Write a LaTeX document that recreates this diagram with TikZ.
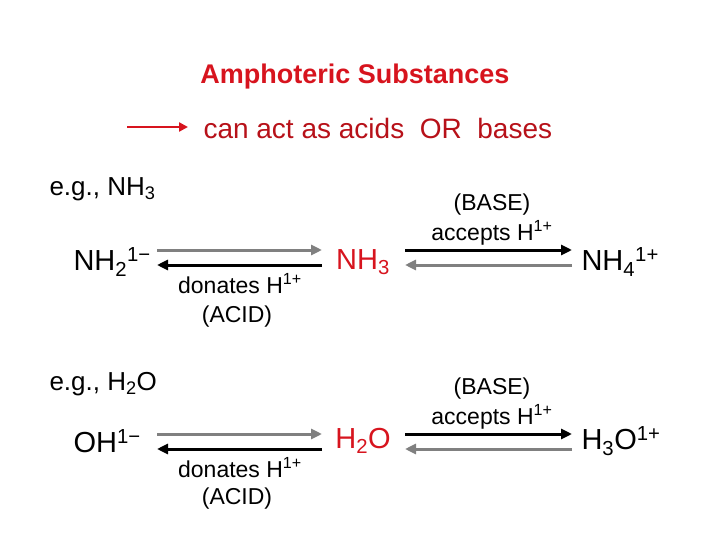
\documentclass[tikz,border=0pt]{standalone}
\usepackage{fontspec}
\setmainfont{Liberation Sans}
\usetikzlibrary{arrows.meta}
\definecolor{hdred}{RGB}{215,20,30}
\definecolor{midgray}{RGB}{128,128,128}
\newcommand{\sub}[1]{\textsubscript{#1}}
\newcommand{\sups}[1]{\textsuperscript{#1}}
\tikzset{
  big/.style={font=\fontsize{29}{32}\selectfont},
  small/.style={font=\fontsize{23}{26}\selectfont},
  eqarr/.style={line width=3pt,-{Triangle[length=11pt,width=10pt]}},
}
\begin{document}
\begin{tikzpicture}[x=1pt,y=-1pt]
\useasboundingbox (0,0) rectangle (720,540);
\node[font=\fontsize{27}{30}\selectfont\bfseries,text=hdred] (title) at (355,77) {Amphoteric Substances};
\coordinate (da) at (127,127); \coordinate (db) at (188,127);
\draw[hdred,line width=2.5pt,-{Triangle[length=9pt,width=9pt]}] (da) -- (db);
\node[font=\fontsize{28}{31}\selectfont,text=hdred!85!black,anchor=west] (def) at (200,128) {can act as acids\ \ OR\ \ bases};
% ammonia
\node[font=\fontsize{26}{29}\selectfont,anchor=west] (eg1) at (46,189) {e.g., NH\sub{3}};
\node[big,anchor=west] (nhtwo) at (70,262) {NH\sub{2}\sups{1−}};
\node[big,text=hdred] (nhthree) at (363,262) {NH\sub{3}};
\node[big,anchor=west] (nhfour) at (578,262) {NH\sub{4}\sups{1+}};
\coordinate (a1) at (157,250); \coordinate (a2) at (322,250);
\coordinate (a3) at (157,265); \coordinate (a4) at (322,265);
\coordinate (b1) at (405,250); \coordinate (b2) at (572,250);
\coordinate (b3) at (405,265); \coordinate (b4) at (572,265);
\draw[eqarr,midgray] (a1) -- (a2);
\draw[eqarr] (a4) -- (a3);
\draw[eqarr] (b1) -- (b2);
\draw[eqarr,midgray] (b4) -- (b3);
\node[small] (don1) at (240,284) {donates H\sups{1+}};
\node[small] (acid1) at (237,317) {(ACID)};
\node[small] (base1) at (492,205) {(BASE)};
\node[small] (acc1) at (492,233) {accepts H\sups{1+}};
% water
\node[font=\fontsize{26}{29}\selectfont,anchor=west] (eg2) at (46,384) {e.g., H\sub{2}O};
\node[big,anchor=west] (oh) at (70,441) {OH\sups{1−}};
\node[big,text=hdred] (water) at (363,441) {H\sub{2}O};
\node[big,anchor=west] (hthree) at (578,441) {H\sub{3}O\sups{1+}};
\coordinate (c1) at (157,434); \coordinate (c2) at (322,434);
\coordinate (c3) at (157,449); \coordinate (c4) at (322,449);
\coordinate (d1) at (405,434); \coordinate (d2) at (572,434);
\coordinate (d3) at (405,449); \coordinate (d4) at (572,449);
\draw[eqarr,midgray] (c1) -- (c2);
\draw[eqarr] (c4) -- (c3);
\draw[eqarr] (d1) -- (d2);
\draw[eqarr,midgray] (d4) -- (d3);
\node[small] (don2) at (240,468) {donates H\sups{1+}};
\node[small] (acid2) at (237,499) {(ACID)};
\node[small] (base2) at (492,389) {(BASE)};
\node[small] (acc2) at (492,417) {accepts H\sups{1+}};
\end{tikzpicture}
\end{document}
